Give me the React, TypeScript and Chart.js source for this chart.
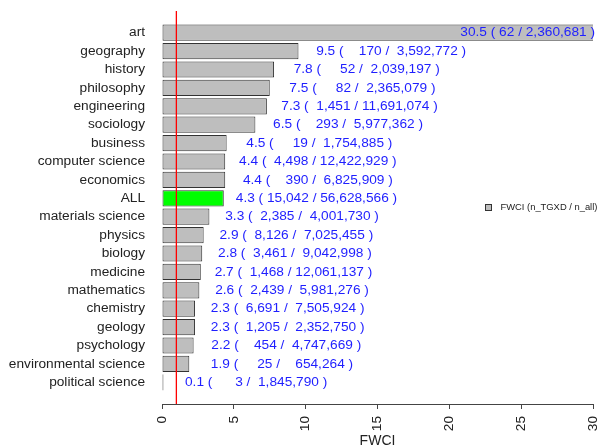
import React, { useEffect, useRef } from "react";
import { Chart, registerables } from "chart.js";

Chart.register(...registerables);

const categories = [
  "art",
  "geography",
  "history",
  "philosophy",
  "engineering",
  "sociology",
  "business",
  "computer science",
  "economics",
  "ALL",
  "materials science",
  "physics",
  "biology",
  "medicine",
  "mathematics",
  "chemistry",
  "geology",
  "psychology",
  "environmental science",
  "political science",
];

const fwci = [30.5, 9.5, 7.8, 7.5, 7.3, 6.5, 4.5, 4.4, 4.4, 4.3, 3.3, 2.9, 2.8, 2.7, 2.6, 2.3, 2.3, 2.2, 1.9, 0.1];

const nTGXD = [62, 170, 52, 82, 1451, 293, 19, 4498, 390, 15042, 2385, 8126, 3461, 1468, 2439, 6691, 1205, 454, 25, 3];

const nAll = [
  2360681, 3592772, 2039197, 2365079, 11691074, 5977362, 1754885, 12422929, 6825909, 56628566,
  4001730, 7025455, 9042998, 12061137, 5981276, 7505924, 2352750, 4747669, 654264, 1845790,
];

const xTicks = [0, 5, 10, 15, 20, 25, 30];
const referenceValue = 1;
const highlightCategory = "ALL";
const legendLabel = "FWCI (n_TGXD / n_all)";
const axisTitle = "FWCI";

const FONT = "'Liberation Sans', Arial, Helvetica, sans-serif";
const LABEL_SHIFT = 6.45;

function fmt(n: number): string {
  return String(n).replace(/\B(?=(\d{3})+(?!\d))/g, ",");
}

function fullLabel(i: number): string {
  return `${fwci[i].toFixed(1)} ( ${fmt(nTGXD[i]).padStart(6, " ")} / ${fmt(nAll[i]).padStart(10, " ")} )`;
}

function shortLabel(i: number): string {
  return `${fwci[i].toFixed(1)} ( ${fmt(nTGXD[i])} / ${fmt(nAll[i])} )`;
}

const overlayPlugin = {
  id: "overlay",
  afterDatasetsDraw(chart: any) {
    const { ctx, chartArea } = chart;
    const x = chart.scales.x;
    const y = chart.scales.y;
    ctx.save();

    // value labels
    ctx.font = `13.7px ${FONT}`;
    ctx.fillStyle = "#1f1fff";
    ctx.textBaseline = "middle";
    fwci.forEach((v, i) => {
      const py = y.getPixelForValue(i);
      const full = fullLabel(i);
      const cx = x.getPixelForValue(v + LABEL_SHIFT);
      const w = ctx.measureText(full).width;
      if (cx + w / 2 > chartArea.right) {
        ctx.textAlign = "right";
        ctx.fillText(shortLabel(i), chartArea.right + 2, py);
      } else {
        ctx.textAlign = "center";
        ctx.fillText(full, cx, py);
      }
    });

    // reference line
    const rx = x.getPixelForValue(referenceValue);
    ctx.strokeStyle = "#ff0000";
    ctx.lineWidth = 1.3;
    ctx.beginPath();
    ctx.moveTo(rx, chartArea.top);
    ctx.lineTo(rx, chartArea.bottom);
    ctx.stroke();

    // legend
    const ly = y.getPixelForValue(9.5);
    const bx = chartArea.right - 107;
    ctx.fillStyle = "#bebebe";
    ctx.fillRect(bx, ly - 2.5, 5, 5);
    ctx.strokeStyle = "#333";
    ctx.lineWidth = 1;
    ctx.strokeRect(bx - 0.5, ly - 3, 6, 6);
    ctx.fillStyle = "#222";
    ctx.font = `9.4px ${FONT}`;
    ctx.textAlign = "left";
    ctx.fillText(legendLabel, bx + 14.5, ly);

    ctx.restore();
  },
};

export default function App() {
  const canvasRef = useRef<HTMLCanvasElement | null>(null);

  useEffect(() => {
    document.body.style.margin = "0";
    const canvas = canvasRef.current;
    if (!canvas) return;
    const chart = new Chart(canvas, {
      type: "bar",
      data: {
        datasets: [
          {
            label: legendLabel,
            data: fwci.map((v, i) => ({ x: v, y: i })),
            backgroundColor: categories.map((c) => (c === highlightCategory ? "#00ff00" : "#bebebe")),
            borderColor: "#333333",
            borderWidth: 1,
            borderSkipped: false,
            barPercentage: 0.88,
            categoryPercentage: 1,
          } as any,
        ],
      },
      options: {
        indexAxis: "y",
        responsive: false,
        animation: false,
        devicePixelRatio: 1,
        layout: { padding: { top: 11, right: 4, left: 0, bottom: 0 } },
        plugins: {
          legend: { display: false },
          tooltip: { enabled: false },
        },
        scales: {
          x: {
            type: "linear",
            position: "bottom",
            min: 0,
            max: 30,
            afterBuildTicks: (s: any) => {
              s.ticks = xTicks.map((v) => ({ value: v }));
            },
            afterFit: (s: any) => {
              s.height = 44;
              s.paddingLeft = 0;
              s.paddingRight = 0;
            },
            ticks: {
              minRotation: 90,
              maxRotation: 90,
              autoSkip: false,
              padding: 7,
              color: "#222",
              font: { family: FONT, size: 13.7 },
            },
            grid: {
              display: true,
              drawOnChartArea: false,
              drawTicks: true,
              tickLength: 5,
              color: "#444",
              lineWidth: 1,
            },
            border: { display: true, color: "#444", width: 1 },
            title: {
              display: true,
              text: axisTitle,
              color: "#222",
              font: { family: FONT, size: 14, lineHeight: 1 },
              padding: 0,
            },
          },
          y: {
            type: "linear",
            reverse: true,
            offset: false,
            min: -1.18,
            max: categories.length - 1 + 1.18,
            afterBuildTicks: (s: any) => {
              s.ticks = categories.map((_, i) => ({ value: i }));
            },
            afterFit: (s: any) => {
              s.width = 162;
              s.paddingTop = 0;
              s.paddingBottom = 0;
            },
            ticks: {
              autoSkip: false,
              padding: 17,
              color: "#222",
              font: { family: FONT, size: 13.7 },
              callback: (v: any) => categories[v as number] ?? "",
            },
            grid: { display: false, drawTicks: false, offset: false },
            border: { display: false },
          },
        },
      } as any,
      plugins: [overlayPlugin],
    });
    return () => chart.destroy();
  }, []);

  return (
    <div style={{ width: 597, height: 448 }}>
      <canvas ref={canvasRef} width={597} height={448} style={{ display: "block", width: 597, height: 448 }} />
    </div>
  );
}
